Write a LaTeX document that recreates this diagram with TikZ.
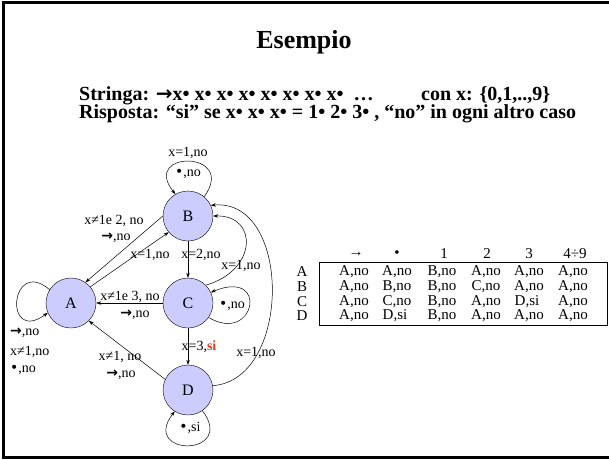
\documentclass[tikz,border=0pt]{standalone}
\usepackage{fontspec}
\setmainfont{Liberation Serif}
\newfontfamily\dvs{DejaVu Sans}
\usetikzlibrary{arrows.meta}
\definecolor{stfill}{RGB}{204,204,255}
\definecolor{sired}{RGB}{235,60,30}
\newcommand{\arw}{{\dvs\bfseries →}}
\newcommand{\blt}{{\dvs •}}
\begin{document}
\begin{tikzpicture}[x=1pt,y=-1pt,
  st/.style={circle,draw,fill=stfill,minimum size=50pt,inner sep=0pt,font=\fontsize{16}{18}\selectfont},
  lbl/.style={inner sep=0pt,font=\fontsize{14}{16}\selectfont},
  tb/.style={inner sep=0pt,font=\fontsize{15}{17}\selectfont},
  hd/.style={inner sep=0pt,align=left,font=\fontsize{20}{18.5}\selectfont\bfseries},
  edge/.style={-{Stealth[length=5pt,width=3.5pt]},line width=0.5pt},
  frame/.style={line width=3pt}]
\useasboundingbox (0,0) rectangle (609,459);
% frame
\draw[frame] (609,2) -- (3.5,2) -- (3.5,457) -- (609,457);
% title and text
\node[font=\fontsize{26}{30}\selectfont\bfseries] (title) at (304,42) {Esempio};
\node[hd,anchor=north west] (txt) at (79,86) {\makebox[342pt][l]{Stringa: \arw x• x• x• x• x• x• x• x•\ \ …}con x: \{0,1,..,9\}\\
Risposta: “si” se x• x• x• = 1• 2• 3• , “no” in ogni altro caso};
% states
\node[st] (A) at (71,303) {A};
\node[st] (B) at (188,216) {B};
\node[st] (C) at (188,303) {C};
\node[st] (D) at (188,390) {D};
% self loops
\draw[edge] (B.50) .. controls (238,150) and (140,150) .. (B.120);
\draw[edge] (A.148) .. controls (10,256) and (3,345) .. (A.203);
\draw[edge] (C.-35) .. controls (255,345) and (270,268) .. (C.25);
\draw[edge] (D.-55) .. controls (237,457) and (140,457) .. (D.238);
% edges
\draw[edge] (B.180) -- (A.55);
\draw[edge] (A.40) -- (B.220);
\draw[edge] (B.south) -- (C.north);
\draw[edge] (C.45) .. controls (258,270) and (258,215) .. (B.0);
\draw[edge] (C.west) -- (A.east);
\draw[edge] (C.south) -- (D.north);
\draw[edge] (D.155) -- (A.-45);
\draw[edge] (D.10) .. controls (292,380) and (292,198) .. (B.25);
% labels
\node[lbl] (lb1) at (188,153) {x=1,no};
\node[lbl] (lb2) at (188,174) {\blt,no};
\node[lbl] (lb3) at (114,221) {x≠1e 2, no};
\node[lbl] (lb4) at (116,238) {\arw,no};
\node[lbl] (lb5) at (150,255) {x=1,no};
\node[lbl] (lb6) at (201,255) {x=2,no};
\node[lbl] (lb7) at (241,266) {x=1,no};
\node[lbl] (lb8) at (130,297) {x≠1e 3, no};
\node[lbl] (lb9) at (135,315) {\arw,no};
\node[lbl] (lb10) at (232,306) {\blt,no};
\node[lbl] (lb11) at (199,347) {x=3,\textcolor{sired}{\bfseries si}};
\node[lbl] (lb12) at (256,353) {x=1,no};
\node[lbl] (lb13) at (120,357) {x≠1, no};
\node[lbl] (lb14) at (121,375) {\arw,no};
\node[lbl] (lb15) at (190,428) {\blt,si};
\node[lbl,anchor=west] (lb16) at (10,333) {\arw,no};
\node[lbl,anchor=west] (lb17) at (10,352) {x≠1,no};
\node[lbl,anchor=west] (lb18) at (10,370) {\blt,no};
% table
\draw[line width=0.6pt] (319,262) rectangle (607,325);
\node[tb] (h1) at (356,254) {→};
\node[tb] (h2) at (397,254) {•};
\node[tb] (h3) at (444,254) {1};
\node[tb] (h4) at (487,254) {2};
\node[tb] (h5) at (529,254) {3};
\node[tb] (h6) at (575,254) {4÷9};
\node[tb] (rA) at (302,272) {A};
\node[tb] (rB) at (302,287) {B};
\node[tb] (rC) at (302,302) {C};
\node[tb] (rD) at (302,316) {D};
\node[tb] (cA1) at (354,272) {A,no}; \node[tb] (cA2) at (397,272) {A,no}; \node[tb] (cA3) at (442,272) {B,no};
\node[tb] (cA4) at (486,272) {A,no}; \node[tb] (cA5) at (529,272) {A,no}; \node[tb] (cA6) at (573,272) {A,no};
\node[tb] (cB1) at (354,287) {A,no}; \node[tb] (cB2) at (397,287) {B,no}; \node[tb] (cB3) at (442,287) {B,no};
\node[tb] (cB4) at (486,287) {C,no}; \node[tb] (cB5) at (529,287) {A,no}; \node[tb] (cB6) at (573,287) {A,no};
\node[tb] (cC1) at (354,302) {A,no}; \node[tb] (cC2) at (397,302) {C,no}; \node[tb] (cC3) at (442,302) {B,no};
\node[tb] (cC4) at (486,302) {A,no}; \node[tb,anchor=west] (cC5) at (514.5,302) {D,si}; \node[tb] (cC6) at (573,302) {A,no};
\node[tb] (cD1) at (354,316) {A,no}; \node[tb,anchor=west] (cD2) at (382.5,316) {D,si}; \node[tb] (cD3) at (442,316) {B,no};
\node[tb] (cD4) at (486,316) {A,no}; \node[tb] (cD5) at (529,316) {A,no}; \node[tb] (cD6) at (573,316) {A,no};
\end{tikzpicture}
\end{document}
